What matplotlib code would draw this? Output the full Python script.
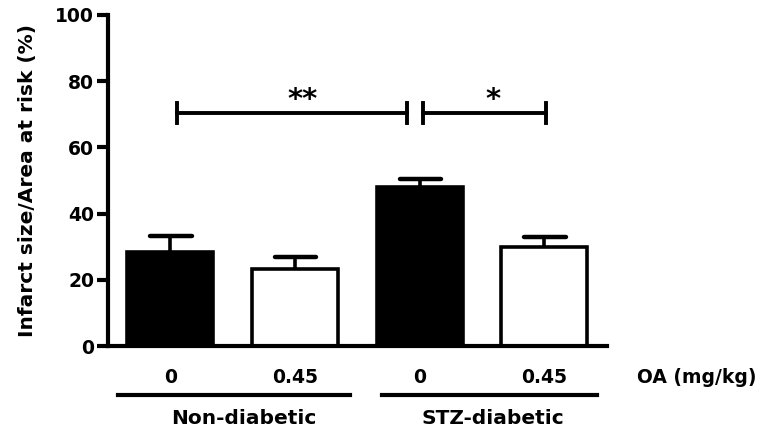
import matplotlib.pyplot as plt

# data
doses = ['0', '0.45', '0', '0.45']
groups = ['Non-diabetic', 'STZ-diabetic']
ratio = [28.4, 23.3, 48.0, 29.9]
sem = [4.8, 3.6, 2.5, 3.0]
fills = ['black', 'white', 'black', 'white']

plt.rcParams['font.family'] = 'DejaVu Sans'
plt.rcParams['font.weight'] = 'bold'

fig = plt.figure(figsize=(7.68, 4.36), dpi=100)
ax = fig.add_axes([0.1406, 0.2064, 0.790 - 0.1406, 0.9656 - 0.2064])

x = list(range(len(ratio)))
ax.bar(x, ratio, width=0.69, color=fills, edgecolor='black', linewidth=2.6, zorder=2)

# upper error bars only
for xi, v, e in zip(x, ratio, sem):
    ax.plot([xi, xi], [v, v + e], color='black', lw=2.6, zorder=1)
    ax.plot([xi - 0.16, xi + 0.17], [v + e, v + e], color='black', lw=3.2,
            solid_capstyle='round', zorder=1)

# significance brackets
def bracket(x0, x1, y, label, lx):
    ax.plot([x0, x1], [y, y], color='black', lw=2.8)
    ax.plot([x0, x0], [y - 3, y + 3], color='black', lw=2.8)
    ax.plot([x1, x1], [y - 3, y + 3], color='black', lw=2.8)
    ax.text(lx, y - 0.5, label, ha='center', va='bottom', fontsize=21, fontweight='bold')

bracket(0.05, 1.90, 70.5, '**', 1.06)
bracket(2.03, 3.01, 70.5, '*', 2.59)

ax.set_xlim(-0.5, 3.5)
ax.set_ylim(0, 100)
ax.set_yticks([0, 20, 40, 60, 80, 100])
ax.set_xticks([])
ax.tick_params(axis='y', length=8, width=3, labelsize=13.5, pad=2)
for s in ['top', 'right']:
    ax.spines[s].set_visible(False)
for s in ['left', 'bottom']:
    ax.spines[s].set_linewidth(3)
ax.set_ylabel('Infarct size/Area at risk (%)', fontsize=14.5, fontweight='bold', labelpad=13)

# dose labels and group lines below the axis
for xi, d in zip(x, doses):
    ax.text(xi, -9.6, d, ha='center', va='center', fontsize=13.5, fontweight='bold')
ax.text(4.22, -9.4, 'OA (mg/kg)', ha='center', va='center', fontsize=13.5, fontweight='bold')

ax.plot([-0.42, 1.44], [-14.8, -14.8], color='black', lw=3, clip_on=False)
ax.plot([1.70, 3.42], [-14.8, -14.8], color='black', lw=3, clip_on=False)
ax.text(0.59, -22, groups[0], ha='center', va='center', fontsize=14.5, fontweight='bold')
ax.text(2.59, -22, groups[1], ha='center', va='center', fontsize=14.5, fontweight='bold')

fig.savefig('out.png', dpi=100)
